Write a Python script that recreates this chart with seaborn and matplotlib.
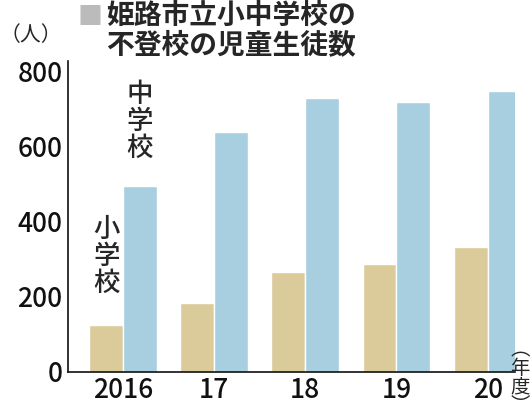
import matplotlib
matplotlib.use("Agg")
import matplotlib.pyplot as plt
import seaborn as sns
import pandas as pd

years = ["2016", "17", "18", "19", "20"]
elementary = [125, 184, 267, 288, 333]
middle = [496, 640, 731, 720, 749]

df = pd.DataFrame({
    "year": years * 2,
    "value": elementary + middle,
    "school": ["小学校"] * 5 + ["中学校"] * 5,
})

sns.set_style("white")
plt.rcParams['font.family'] = ['Noto Sans CJK JP', 'DejaVu Sans']

fig = plt.figure(figsize=(5.32, 4.16), dpi=100)
ax = fig.add_axes([0.128, 0.106, 0.84, 0.748])
sns.barplot(data=df, x="year", y="value", hue="school",
            palette=["#dccb9a", "#a8cfe0"], width=0.74, ax=ax, legend=False,
            saturation=1)
ax.set_ylim(0, 830)
ax.set_xlim(-0.6, 4.3)
ax.set_yticks([0, 200, 400, 600, 800])
ax.set_xlabel("")
ax.set_ylabel("")
ax.tick_params(axis="both", labelsize=19, length=6, width=1.2, colors="#111")
ax.tick_params(axis="x", length=0)
ax.tick_params(axis="y", direction="in", pad=4)
for lab in ax.get_xticklabels() + ax.get_yticklabels():
    lab.set_fontweight("medium")
for s in ["top", "right"]:
    ax.spines[s].set_visible(False)
for s in ["left", "bottom"]:
    ax.spines[s].set_linewidth(1.2)
    ax.spines[s].set_color("#111")

fig.text(0.145, 0.99, "■", fontsize=18, color="#bbbbbb", va="top", ha="left")
fig.text(0.2, 0.995, "姫路市立小中学校の\n不登校の児童生徒数", fontsize=20,
         fontweight="bold", va="top", ha="left", linespacing=1.05)
fig.text(0.0, 0.915, "（人）", fontsize=15, va="center", ha="left")
ax.text(0.18, 560, "中\n学\n校", fontsize=19, ha="center", va="bottom",
        linespacing=1.0, fontweight="medium")
ax.text(-0.18, 200, "小\n学\n校", fontsize=19, ha="center", va="bottom",
        linespacing=1.0, fontweight="medium")
fig.text(0.978, 0.185, "︵\n年\n度\n︶", fontsize=14, va="top", ha="center",
         linespacing=0.85)
fig.savefig("out.png", dpi=100)
